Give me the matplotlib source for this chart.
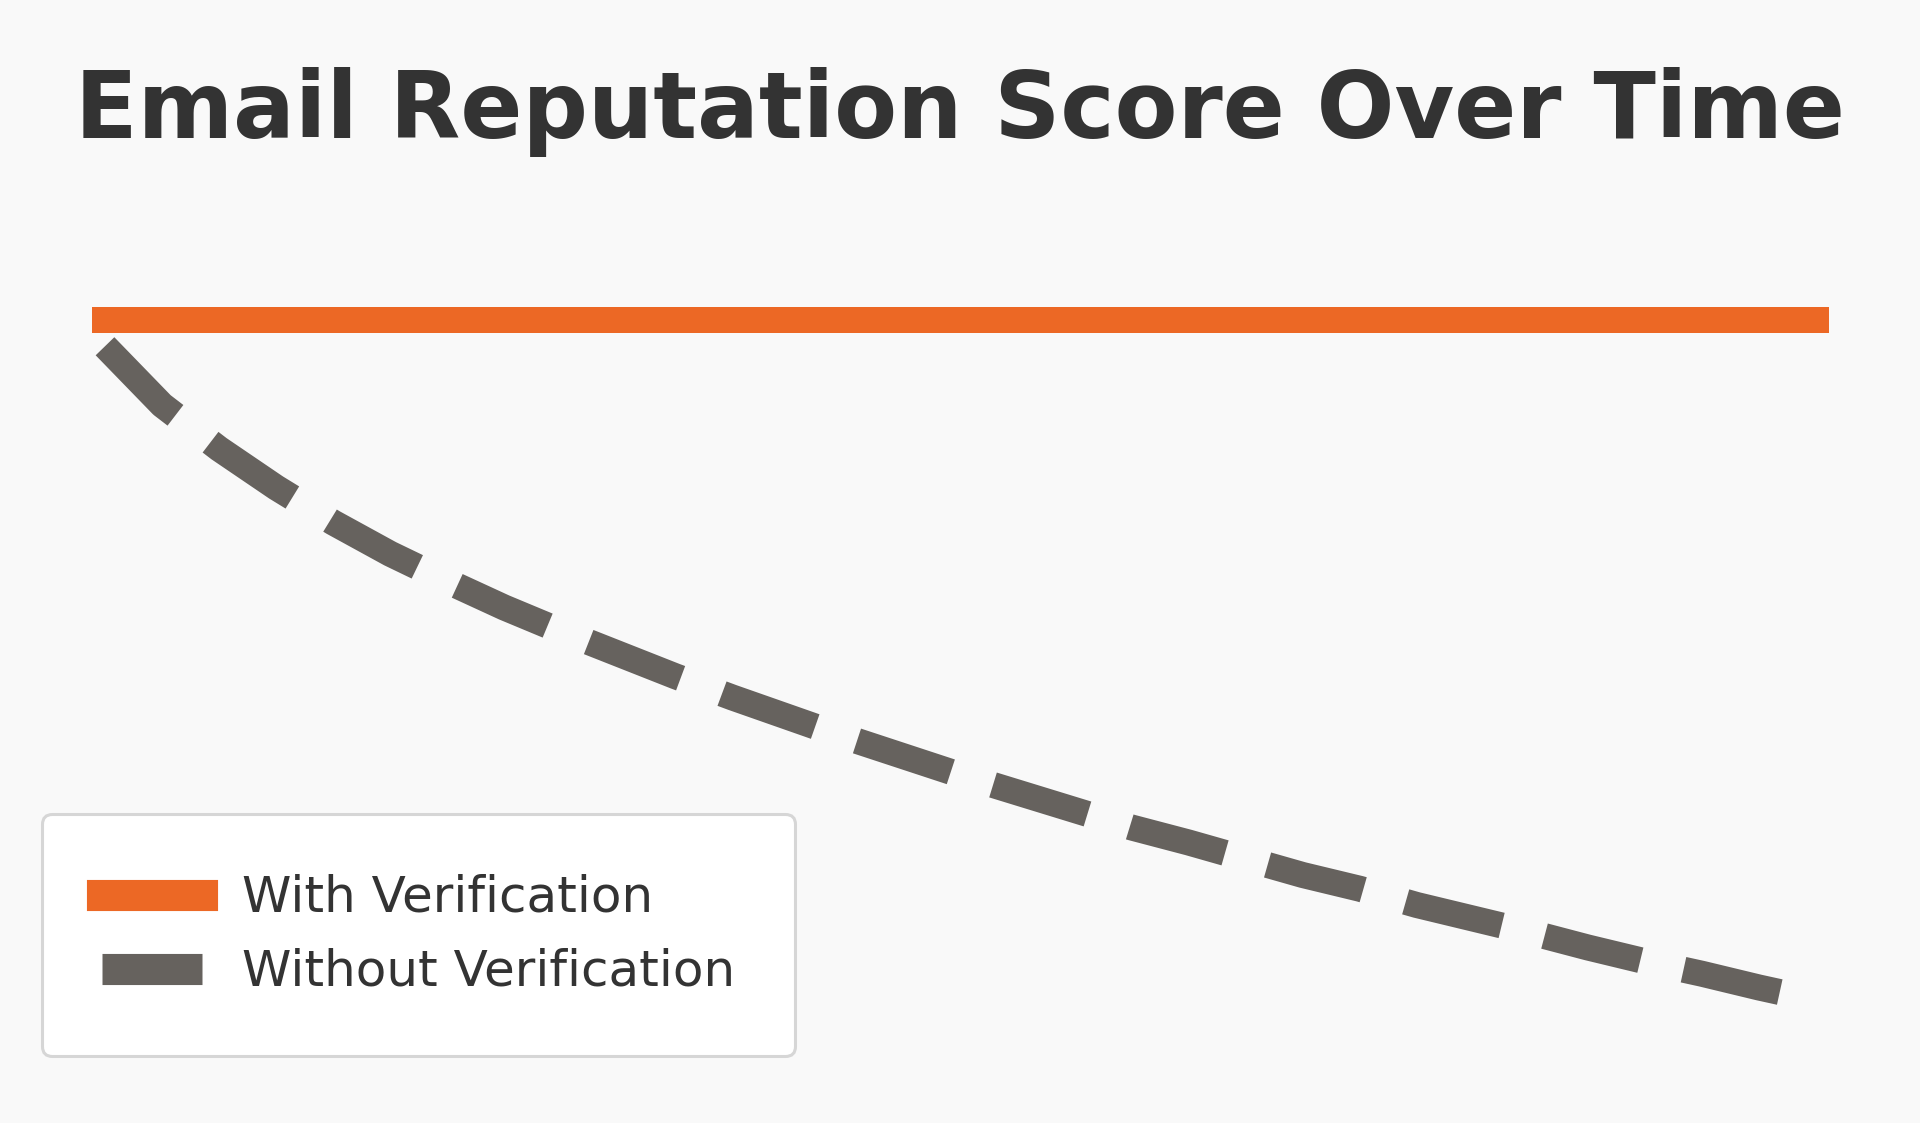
import matplotlib
matplotlib.use("Agg")
import matplotlib.pyplot as plt

# données (jours 0..30)
days = list(range(31))
with_verification = [95] * len(days)
without_verification = [92.9, 88.2, 84.7, 81.6, 78.8, 76.3, 74.1, 72.0, 70.1, 68.3,
                        66.5, 64.8, 63.2, 61.6, 60.1, 58.6, 57.2, 55.8, 54.4, 53.2,
                        51.9, 50.6, 49.5, 48.2, 47.1, 46.0, 44.8, 43.7, 42.7, 41.6,
                        40.6]
labels = ["With Verification", "Without Verification"]
title = "Email Reputation Score Over Time"

ORANGE = "#ec6825"
GREY = "#66625e"
TEXT = "#333333"
BG = "#f9f9f9"

fig = plt.figure(figsize=(9.6, 5.615), dpi=200, facecolor=BG)
ax = fig.add_axes([105 / 1920, 1 - 1070 / 1123, (1816 - 105) / 1920, 875 / 1123])
ax.set_facecolor(BG)

# clip_on=False pour garder les bouts "projecting" de la ligne
ax.plot(days, with_verification, color=ORANGE, lw=9.36, label=labels[0],
        solid_capstyle="projecting", clip_on=False)
ax.plot(days, without_verification, color=GREY, lw=9.36,
        linestyle=(0, (3.8, 1.7)), label=labels[1], clip_on=False)

ax.set_xlim(0, 30)
ax.set_ylim(35, 105)
ax.axis("off")

fig.text(0.5, 1 - 138 / 1123, title, ha="center", va="baseline",
         fontsize=33.0, fontweight="bold", color=TEXT)

leg = fig.legend(loc="lower left", bbox_to_anchor=(42 / 1920, 67 / 1123),
                 borderaxespad=0, fontsize=18, labelcolor=TEXT,
                 borderpad=1.2, labelspacing=0.52, handletextpad=0.8,
                 handlelength=2.0, frameon=True, fancybox=True, framealpha=1)
frame = leg.get_frame()
frame.set_facecolor("white")
frame.set_edgecolor("#d6d6d6")
frame.set_linewidth(1.1)
for line in leg.get_lines():
    line.set_linewidth(11.2)

fig.savefig("out.png", dpi=200, facecolor=BG)
